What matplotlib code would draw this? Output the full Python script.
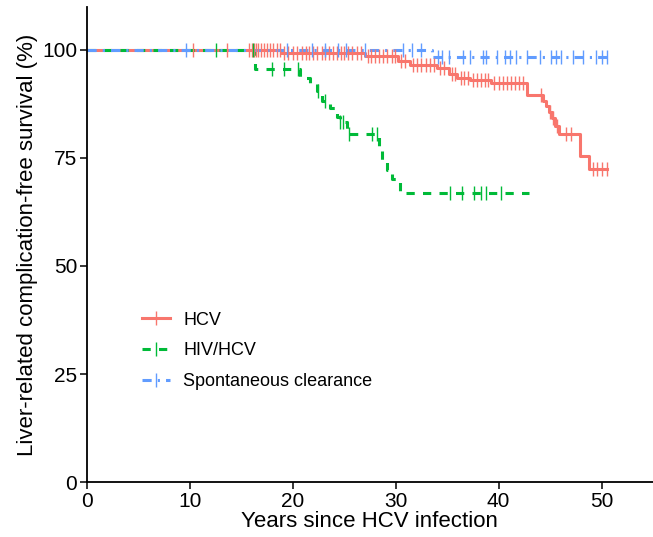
import numpy as np
import matplotlib
matplotlib.use("Agg")
from matplotlib import pyplot as plt
from matplotlib.lines import Line2D

plt.rcParams['font.family'] = ['Liberation Sans', 'DejaVu Sans']

# HCV group: step times / survival after each step (%)
hcv_times = [18.9, 27.0, 30.2, 31.4, 34.0, 35.2, 36.0, 37.2, 39.3, 42.8,
             44.3, 44.6, 44.9, 45.2, 45.5, 45.9, 47.9, 48.8]
hcv_surv = [99.3, 98.5, 97.4, 96.6, 95.8, 94.4, 93.6, 93.0, 92.3, 89.5,
            88.3, 87.0, 85.7, 84.2, 82.5, 80.6, 75.5, 72.5]
hcv_end = 50.5
hcv_censor = [10.3, 13.6, 15.8, 16.0, 16.2, 16.4, 16.6, 16.9, 17.2, 17.5,
              17.8, 18.1, 18.5, 18.8, 19.2, 19.5, 20.0, 20.4, 20.9, 21.3,
              21.6, 22.0, 22.4, 22.8, 23.1, 23.5, 23.9, 24.3, 24.7, 25.0,
              25.4, 25.8, 26.2, 26.6, 27.3, 27.6, 28.0, 28.4, 28.8, 29.2,
              29.6, 29.9, 30.5, 30.9, 31.7, 32.1, 32.5, 32.9, 33.3, 33.7,
              34.3, 34.7, 35.5, 35.8, 36.3, 36.6, 37.0, 37.5, 37.9, 38.3,
              38.7, 39.0, 39.6, 40.0, 40.4, 40.8, 41.2, 41.6, 42.0, 42.4,
              44.1, 45.0, 45.3, 45.7, 46.5, 47.0, 49.2, 49.6, 50.0, 50.5]

# HIV/HCV group
hiv_times = [16.3, 20.7, 21.7, 22.4, 22.8, 23.6, 24.3, 24.6, 25.3, 28.4,
             28.7, 29.2, 29.6, 30.4]
hiv_surv = [95.6, 93.6, 92.1, 90.5, 88.2, 86.6, 84.5, 83.3, 80.5, 77.3,
            74.5, 72.2, 70.1, 66.9]
hiv_end = 43.0
hiv_censor = [12.5, 16.1, 18.0, 19.2, 20.5, 22.5, 23.1, 24.6, 24.9, 25.5,
              27.7, 28.2, 35.3, 36.4, 37.6, 38.3, 38.8, 40.2]

# Spontaneous clearance group
spc_times = [33.5]
spc_surv = [98.4]
spc_end = 50.5
spc_censor = [9.6, 19.4, 21.9, 23.1, 24.4, 25.2, 27.0, 30.7, 31.6, 32.5,
              34.1, 34.5, 35.2, 36.5, 37.2, 38.5, 38.8, 39.8, 40.6, 41.1,
              41.7, 42.8, 44.0, 45.1, 45.6, 46.1, 47.2, 48.2, 49.5, 50.0, 50.5]

groups = [
    ("HCV", hcv_times, hcv_surv, hcv_end, hcv_censor, "#F8766D", "-"),
    ("HIV/HCV", hiv_times, hiv_surv, hiv_end, hiv_censor, "#00BA38", (0, (2.7, 2.7))),
    ("Spontaneous clearance", spc_times, spc_surv, spc_end, spc_censor, "#619CFF",
     (0, (3.0, 2.0, 0.7, 2.0))),
]


def survAt(times, surv, t):
    i = np.searchsorted(times, t, side="right")
    return 100.0 if i == 0 else surv[i - 1]


fig = plt.figure(figsize=(6.53, 5.37), dpi=100)
ax = fig.add_axes([0.133, 0.1024, 0.867, 0.885])

lw = 2.2
for label, times, surv, end, censor, color, ls in groups:
    x = [0] + list(times) + [end]
    y = [100] + list(surv) + [surv[-1]]
    ax.step(x, y, where="post", color=color, linestyle=ls, linewidth=lw)

for label, times, surv, end, censor, color, ls in groups:
    cy = [survAt(times, surv, t) for t in censor]
    ax.plot(censor, cy, linestyle="none", marker="|", markersize=9.5,
            markeredgewidth=1.0, color=color)

# legend handles with a censor tick
handles = [Line2D([], [], color=c, linestyle=ls, linewidth=lw, marker="|",
                  markersize=9.5, markeredgewidth=1.0)
           for _, _, _, _, _, c, ls in groups]
labels = [g[0] for g in groups]
ax.legend(handles, labels, loc="center left", bbox_to_anchor=(0.068, 0.276),
          frameon=False, fontsize=13, handlelength=1.6, handletextpad=0.7,
          labelspacing=0.75, numpoints=1)

ax.set_xlim(0, 55)
ax.set_ylim(0, 110)
ax.set_xticks([0, 10, 20, 30, 40, 50])
ax.set_yticks([0, 25, 50, 75, 100])
ax.tick_params(labelsize=15, length=5, width=1.1, color="black", labelcolor="black", pad=2)
ax.spines["top"].set_visible(False)
ax.spines["right"].set_visible(False)
ax.spines["left"].set_linewidth(1.3)
ax.spines["bottom"].set_linewidth(1.3)
ax.set_xlabel("Years since HCV infection", fontsize=16, labelpad=0)
ax.set_ylabel("Liver-related complication-free survival (%)", fontsize=16, labelpad=3)

fig.savefig("out.png", dpi=100)
